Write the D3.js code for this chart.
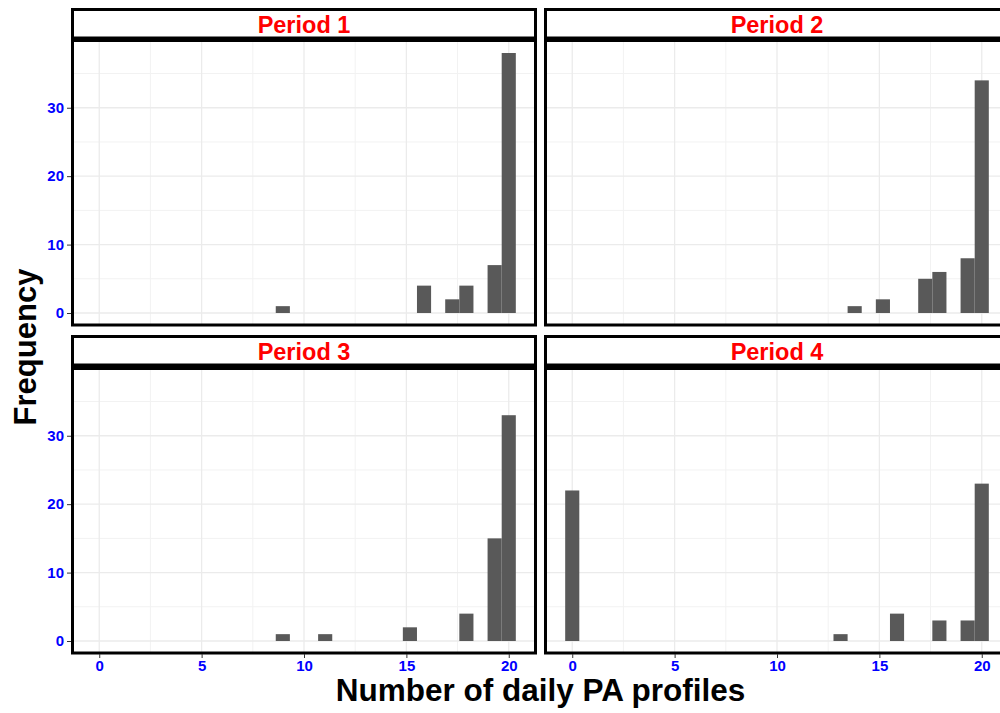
<!DOCTYPE html>
<html>
<head>
<meta charset="utf-8">
<script src="https://cdn.jsdelivr.net/npm/d3@7"></script>
<style>
  body { margin: 0; background: #fff; }
  text { font-family: "Liberation Sans", Arial, sans-serif; font-weight: bold; }
</style>
</head>
<body>
<div id="chart"></div>
<script>
// number of daily PA profiles (value) and how many participants had it
var periods = ['Period 1', 'Period 2', 'Period 3', 'Period 4']
var period1Values = [9, 16, 17, 18, 19, 20]
var period1Counts = [1, 4, 2, 4, 7, 38]
var period2Values = [14, 15, 17, 18, 19, 20]
var period2Counts = [1, 2, 5, 6, 8, 34]
var period3Values = [9, 11, 15, 18, 19, 20]
var period3Counts = [1, 1, 2, 4, 15, 33]
var period4Values = [0, 13, 16, 18, 19, 20]
var period4Counts = [22, 1, 4, 3, 3, 23]
var xTicks = [0, 5, 10, 15, 20]
var yTicks = [0, 10, 20, 30]

var values = [period1Values, period2Values, period3Values, period4Values]
var counts = [period1Counts, period2Counts, period3Counts, period4Counts]

var W = 1000, H = 713
var binWidth = 20 / 29   // ggplot default: 30 bins over 0..20

var svg = d3.select('#chart').append('svg')
  .attr('width', W).attr('height', H)

// panel geometry
var colX = [71, 544]
var panelW = 466
var rowTop = [40, 368]
var panelH = 286
var stripTop = [8, 335]
var stripH = 30

var x0 = -binWidth / 2, x1 = 20 + binWidth / 2
var xpad = (x1 - x0) * 0.05
var ymax = 38
var ypad = ymax * 0.05

periods.forEach(function(name, i) {
  var col = i % 2, row = Math.floor(i / 2)
  var left = colX[col], top = rowTop[row]

  var x = d3.scaleLinear().domain([x0 - xpad, x1 + xpad]).range([left, left + panelW])
  var y = d3.scaleLinear().domain([-ypad, ymax + ypad]).range([top + panelH, top])

  var g = svg.append('g')

  // minor grid
  g.selectAll('.minx').data(d3.range(2.5, 21, 5)).enter().append('line')
    .attr('x1', d => x(d)).attr('x2', d => x(d))
    .attr('y1', top).attr('y2', top + panelH)
    .attr('stroke', '#f2f2f2').attr('stroke-width', 1)
  g.selectAll('.miny').data(d3.range(5, 40, 10)).enter().append('line')
    .attr('x1', left).attr('x2', left + panelW)
    .attr('y1', d => y(d)).attr('y2', d => y(d))
    .attr('stroke', '#f2f2f2').attr('stroke-width', 1)
  // major grid
  g.selectAll('.majx').data(xTicks).enter().append('line')
    .attr('x1', d => x(d)).attr('x2', d => x(d))
    .attr('y1', top).attr('y2', top + panelH)
    .attr('stroke', '#ebebeb').attr('stroke-width', 1.3)
  g.selectAll('.majy').data(yTicks).enter().append('line')
    .attr('x1', left).attr('x2', left + panelW)
    .attr('y1', d => y(d)).attr('y2', d => y(d))
    .attr('stroke', '#ebebeb').attr('stroke-width', 1.3)

  // bars
  var bars = values[i].map(function(v, j) {
    return { center: Math.round(v / binWidth) * binWidth, count: counts[i][j] }
  })
  g.selectAll('.bar').data(bars).enter().append('rect')
    .attr('x', d => x(d.center - binWidth / 2))
    .attr('width', d => x(d.center + binWidth / 2) - x(d.center - binWidth / 2))
    .attr('y', d => y(d.count))
    .attr('height', d => y(0) - y(d.count))
    .attr('fill', '#595959')

  // panel border
  g.append('rect')
    .attr('x', left + 1.5).attr('y', top)
    .attr('width', panelW - 3).attr('height', panelH - 1)
    .attr('fill', 'none').attr('stroke', '#000').attr('stroke-width', 3)
  g.append('line')
    .attr('x1', left).attr('x2', left + panelW)
    .attr('y1', top).attr('y2', top)
    .attr('stroke', '#000').attr('stroke-width', 4)

  // strip
  g.append('rect')
    .attr('x', left + 1.5).attr('y', stripTop[row] + 1.5)
    .attr('width', panelW - 3).attr('height', stripH - 1.5)
    .attr('fill', '#fff').attr('stroke', '#000').attr('stroke-width', 3)
  g.append('text')
    .attr('x', left + panelW / 2).attr('y', stripTop[row] + 24.5)
    .attr('text-anchor', 'middle')
    .attr('fill', '#ff0000').attr('font-size', 23.5)
    .text(name)

  // y axis on left column
  if (col === 0) {
    var ya = svg.append('g')
      .attr('transform', 'translate(' + left + ',0)')
      .call(d3.axisLeft(y).tickValues(yTicks).tickSize(4).tickPadding(3))
    ya.select('.domain').remove()
    ya.selectAll('line').attr('stroke', '#333')
    ya.selectAll('text').attr('fill', '#0000ff').attr('font-size', 15)
      .attr('font-family', '"Liberation Sans", Arial, sans-serif')
  }
  // x axis on bottom row
  if (row === 1) {
    var xa = svg.append('g')
      .attr('transform', 'translate(0,' + (top + panelH) + ')')
      .call(d3.axisBottom(x).tickValues(xTicks).tickSize(4).tickPadding(2))
    xa.select('.domain').remove()
    xa.selectAll('line').attr('stroke', '#333')
    xa.selectAll('text').attr('fill', '#0000ff').attr('font-size', 15)
      .attr('font-family', '"Liberation Sans", Arial, sans-serif')
  }
})

// axis titles
svg.append('text')
  .attr('x', (colX[0] + colX[1] + panelW) / 2).attr('y', 701)
  .attr('text-anchor', 'middle').attr('font-size', 31.5).attr('fill', '#000')
  .text('Number of daily PA profiles')

svg.append('text')
  .attr('transform', 'translate(36,' + (rowTop[0] + rowTop[1] + panelH) / 2 + ') rotate(-90)')
  .attr('text-anchor', 'middle').attr('font-size', 31).attr('fill', '#000')
  .text('Frequency')
</script>
</body>
</html>
